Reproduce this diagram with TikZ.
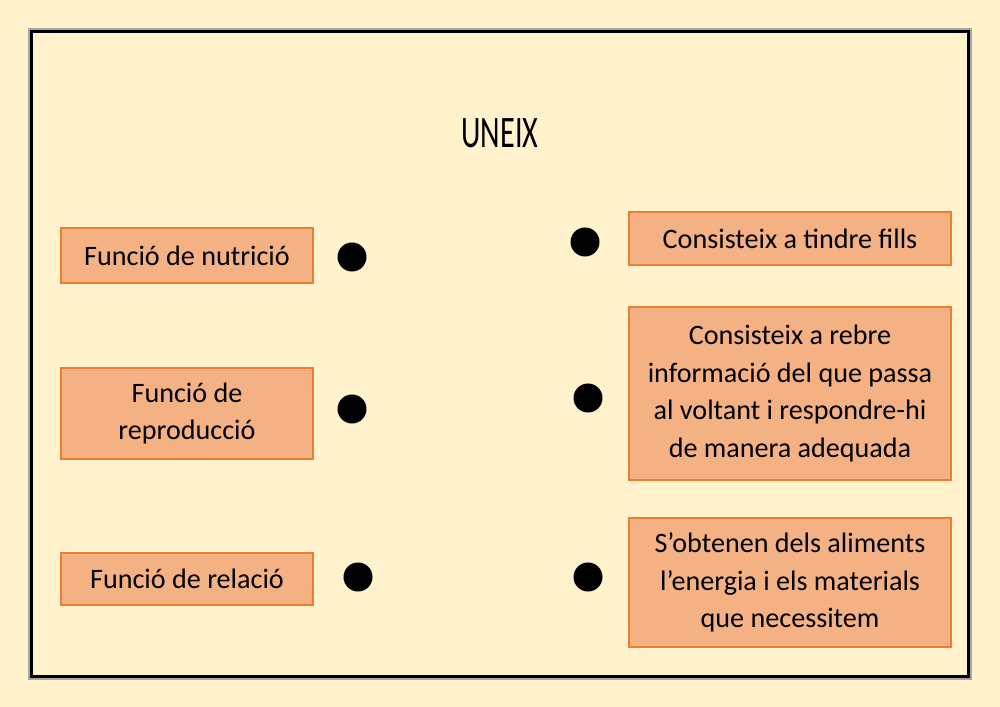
\documentclass[tikz,border=0pt]{standalone}
\usepackage{fontspec}
\setmainfont{Carlito}
\definecolor{paper}{HTML}{FFF2CC}
\definecolor{cardfill}{HTML}{F4B183}
\definecolor{cardline}{HTML}{ED7D31}
\begin{document}
\begin{tikzpicture}[x=0.01cm, y=-0.01cm,
    card/.style={draw=cardline, fill=cardfill, line width=0.6pt, align=center, inner sep=0pt,
                 font=\fontsize{8}{10.7}\selectfont},
    dot/.style={circle, fill=black, inner sep=0pt, minimum size=0.29cm}]
\tikzset{left card/.style={card, minimum width=2.52cm},
         right card/.style={card, minimum width=3.22cm}}
\fill[paper] (0,0) rectangle (1000,707);
\useasboundingbox (0,0) rectangle (1000,707);
% frame
\draw[gray!70, line width=0.9pt] (30,30) rectangle (970,678);
\draw[black, line width=0.75pt] (31.5,31.5) rectangle (968.5,676.5);
\node[font=\fontsize{12.8}{14}\selectfont] (title) at (500,133) {\scalebox{0.67}[1]{UNEIX}};
% left column
\node[left card, minimum height=0.55cm] (nutricio) at (187,255.5) {Funció de nutrició};
\node[left card, minimum height=0.91cm] (reproduccio) at (187,413.5) {Funció de\\reproducció};
\node[left card, minimum height=0.52cm] (relacio) at (187,579) {Funció de relació};
\node[dot] (nutricio dot) at (352,257) {};
\node[dot] (reproduccio dot) at (352,409) {};
\node[dot] (relacio dot) at (358,577) {};
% right column
\node[right card, minimum height=0.53cm] (fills) at (790,238.5) {Consisteix a tindre fills};
\node[right card, minimum height=1.73cm] (informacio) at (790,393.5)
    {Consisteix a rebre\\informació del que passa\\al voltant i respondre-hi\\de manera adequada};
\node[right card, minimum height=1.29cm] (aliments) at (790,582.5)
    {S’obtenen dels aliments\\l’energia i els materials\\que necessitem};
\node[dot] (fills dot) at (585,242) {};
\node[dot] (informacio dot) at (588,398) {};
\node[dot] (aliments dot) at (588,577) {};
\end{tikzpicture}
\end{document}
